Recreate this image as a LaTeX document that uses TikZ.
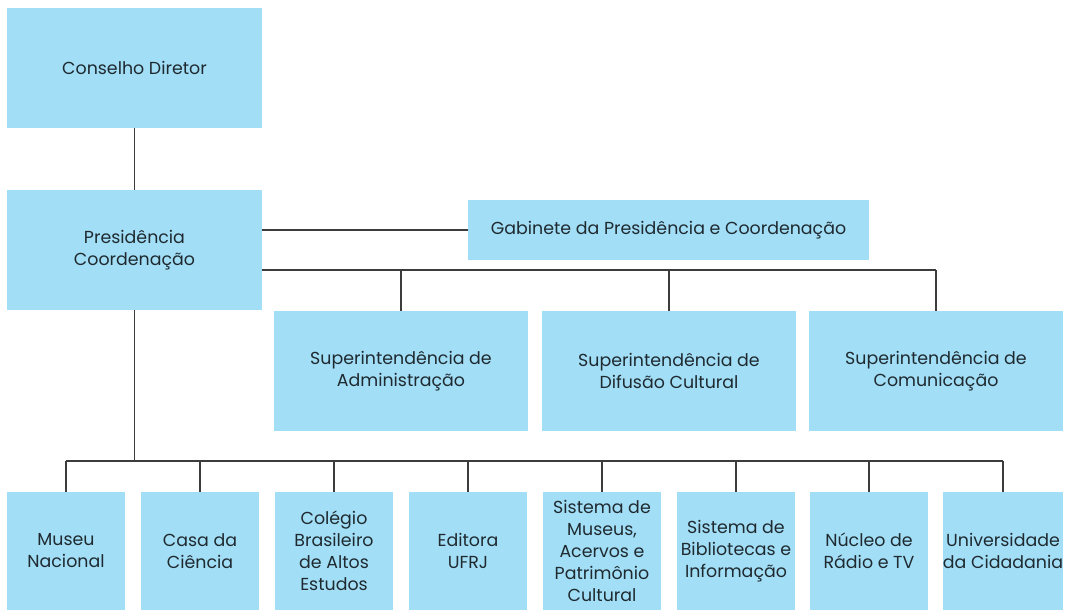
\documentclass[tikz,border=0pt]{standalone}
\usepackage{fontspec}
\setmainfont{Poppins}
\usetikzlibrary{positioning}
\definecolor{boxblue}{HTML}{A2DEF6}
\definecolor{inkgray}{HTML}{1F2A30}
\definecolor{linegray}{HTML}{3C3C3C}
\begin{document}
\begin{tikzpicture}[x=1pt,y=-1pt,font=\fontsize{17.4}{22}\selectfont,
  box/.style={fill=boxblue,text=inkgray,align=center,inner sep=0pt},
  big/.style={box,minimum width=255pt,minimum height=120pt},
  sup/.style={box,minimum width=254pt,minimum height=120pt},
  unit/.style={box,minimum width=118pt,minimum height=118pt},
  link/.style={draw=linegray,line width=1.1pt}]
\useasboundingbox (0,0) rectangle (1071,610);
% top
\node[big] (cons) at (134.5,68) {Conselho Diretor};
\node[big] (pres) at (134.5,250) {Presidência\\Coordenação};
\node[box,minimum width=401pt,minimum height=60pt] (gab) at (668.5,230) {Gabinete da Presidência e Coordenação};
\draw[link] (cons) -- (pres);
\draw[link] (pres.east |- gab) -- (gab);
% superintendencias
\coordinate (bus) at (0,270);
\foreach \n/\x/\t in {adm/401/{Superintendência de\\Administração},
                      dif/669/{Superintendência de\\Difusão Cultural},
                      com/936/{Superintendência de\\Comunicação}}{
  \node[sup] (\n) at (\x,371) {\t};
  \draw[link] (\n |- bus) -- (\n);
}
\draw[link] (pres.east |- bus) -- (com |- bus);
% orgaos suplementares
\coordinate (low) at (0,461);
\draw[link] (pres) -- (pres |- low);
\foreach \n/\x/\t in {mn/66/{Museu\\Nacional},
                      cc/200/{Casa da\\Ciência},
                      cb/334/{Colégio\\Brasileiro\\de Altos\\Estudos},
                      ed/468/{Editora\\UFRJ},
                      sm/602/{Sistema de\\Museus,\\Acervos e\\Patrimônio\\Cultural},
                      sb/736/{Sistema de\\Bibliotecas e\\Informação},
                      nr/869/{Núcleo de\\Rádio e TV},
                      uc/1003/{Universidade\\da Cidadania}}{
  \node[unit] (\n) at (\x,551) {\t};
  \draw[link] (\n |- low) -- (\n);
}
\draw[link] (mn |- low) -- (uc |- low);
\end{tikzpicture}
\end{document}
